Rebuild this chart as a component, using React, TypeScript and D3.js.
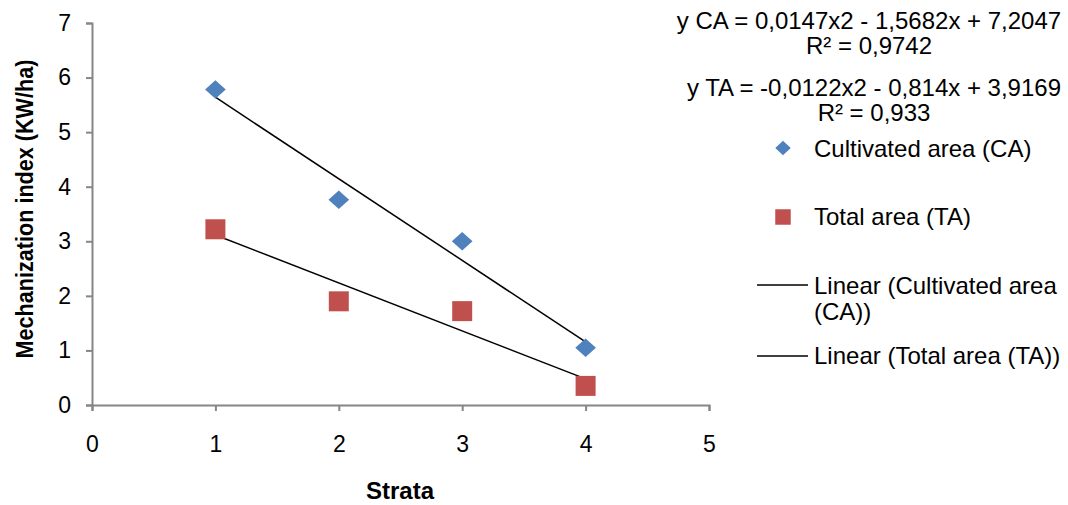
import React, { useRef, useEffect } from 'react'
import { select, scaleLinear, axisLeft, axisBottom, mean, line, symbol, symbolSquare, format } from 'd3'

// Chart data
const strata = [1, 2, 3, 4]
const cultivated = [5.78, 3.76, 3.0, 1.05]
const total = [3.22, 1.9, 1.72, 0.35]
const xTicks = [0, 1, 2, 3, 4, 5]
const yTicks = [0, 1, 2, 3, 4, 5, 6, 7]
const equations = [
    ['y CA = 0,0147x2 - 1,5682x + 7,2047', 'R² = 0,9742'],
    ['y TA = -0,0122x2 - 0,814x + 3,9169', 'R² = 0,933'],
]

const FONT = '"Liberation Sans", Arial, sans-serif'
const BLUE = '#4F81BD'
const RED = '#C0504D'
const AXIS = '#868686'

// least squares fit, used for the trend lines
const fit = (xs, ys) => {
    const mx = mean(xs), my = mean(ys)
    let num = 0, den = 0
    xs.forEach((x, i) => { num += (x - mx) * (ys[i] - my); den += (x - mx) ** 2 })
    const slope = num / den
    return x => my + slope * (x - mx)
}

const App = () => {
    const svgRef = useRef()

    useEffect(() => {
        const svg = select(svgRef.current)
        svg.selectAll('*').remove()

        const xScale = scaleLinear().domain([0, 5]).range([92, 709])
        const yScale = scaleLinear().domain([0, 7]).range([405, 23])

        // axes
        const yAxis = svg.append('g')
            .attr('transform', 'translate(92,0)')
            .call(axisLeft(yScale).tickValues(yTicks).tickFormat(format('d')).tickSize(6).tickPadding(15))
        const xAxis = svg.append('g')
            .attr('transform', 'translate(0,405)')
            .call(axisBottom(xScale).tickValues(xTicks).tickFormat(format('d')).tickSize(6).tickPadding(25))

        ;[yAxis, xAxis].forEach(g => {
            g.attr('font-size', null).attr('font-family', null)
            g.select('.domain').attr('stroke', AXIS).attr('stroke-width', 2)
            g.selectAll('.tick line').attr('stroke', AXIS).attr('stroke-width', 2)
            g.selectAll('.tick text')
                .attr('font-family', FONT).attr('font-size', 23).attr('fill', '#000')
        })

        // trend lines
        const lineGen = line().x(d => xScale(d[0])).y(d => yScale(d[1]))
        ;[cultivated, total].forEach(series => {
            const f = fit(strata, series)
            const x0 = strata[0], x1 = strata[strata.length - 1]
            svg.append('path')
                .attr('d', lineGen([[x0, f(x0)], [x1, f(x1)]]))
                .attr('stroke', '#000').attr('stroke-width', 1.5).attr('fill', 'none')
        })

        // markers
        const diamond = symbol().type(symbolSquare).size(190)
        const square = symbol().type(symbolSquare).size(400)
        svg.append('g').selectAll('path')
            .data(strata)
            .join('path')
            .attr('d', diamond)
            .attr('transform', (d, i) => `translate(${xScale(d)},${yScale(cultivated[i])}) scale(1.06,0.95) rotate(45)`)
            .attr('fill', BLUE)
        svg.append('g').selectAll('path')
            .data(strata)
            .join('path')
            .attr('d', square)
            .attr('transform', (d, i) => `translate(${xScale(d)},${yScale(total[i])})`)
            .attr('fill', RED)

        // axis titles
        svg.append('text')
            .attr('transform', 'translate(33,209) rotate(-90) scale(0.9,1)')
            .attr('text-anchor', 'middle')
            .attr('font-family', FONT).attr('font-size', 24).attr('font-weight', 'bold')
            .text('Mechanization index (KW/ha)')
        svg.append('text')
            .attr('x', 400).attr('y', 499)
            .attr('text-anchor', 'middle')
            .attr('font-family', FONT).attr('font-size', 24).attr('font-weight', 'bold')
            .text('Strata')

        // equations
        const eqPos = [[869, 29, 54], [874, 96, 121]]
        equations.forEach((lines, k) => {
            lines.forEach((t, j) => {
                svg.append('text')
                    .attr('x', eqPos[k][0]).attr('y', eqPos[k][1 + j])
                    .attr('text-anchor', 'middle')
                    .attr('font-family', FONT).attr('font-size', 24)
                    .text(t)
            })
        })

        // legend
        const lg = svg.append('g').attr('font-family', FONT).attr('font-size', 24)
        lg.append('path').attr('d', symbol().type(symbolSquare).size(115))
            .attr('transform', 'translate(783,148) scale(1.02,0.95) rotate(45)').attr('fill', BLUE)
        lg.append('text').attr('x', 814).attr('y', 157).text('Cultivated area (CA)')
        lg.append('path').attr('d', symbol().type(symbolSquare).size(240))
            .attr('transform', 'translate(783,217)').attr('fill', RED)
        lg.append('text').attr('x', 814).attr('y', 225).text('Total area (TA)')
        lg.append('line').attr('x1', 757).attr('x2', 808).attr('y1', 285).attr('y2', 285)
            .attr('stroke', '#000').attr('stroke-width', 1.5)
        lg.append('text').attr('x', 814).attr('y', 294).text('Linear (Cultivated area')
        lg.append('text').attr('x', 814).attr('y', 320).text('(CA))')
        lg.append('line').attr('x1', 757).attr('x2', 808).attr('y1', 356).attr('y2', 356)
            .attr('stroke', '#000').attr('stroke-width', 1.5)
        lg.append('text').attr('x', 814).attr('y', 364).text('Linear (Total area (TA))')
    }, [])

    return (
        <div style={{ position: 'absolute', left: 0, top: 0 }}>
            <svg ref={svgRef} width={1068} height={505} style={{ display: 'block', background: 'white' }} />
        </div>
    )
}

export default App
